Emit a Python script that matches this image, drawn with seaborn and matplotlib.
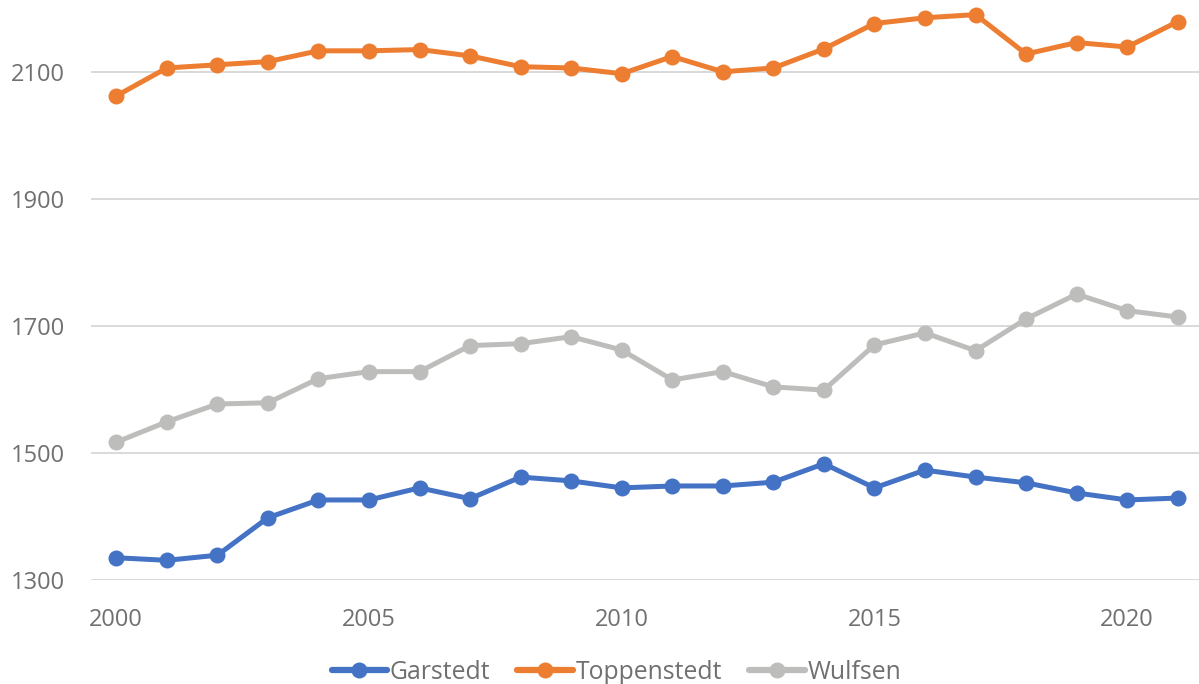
import matplotlib
matplotlib.use("Agg")
import matplotlib.pyplot as plt
import pandas as pd
import seaborn as sns

years = list(range(2000, 2022))
garstedt = [1335, 1331, 1339, 1398, 1426, 1426, 1445, 1428, 1462, 1456, 1445,
            1448, 1448, 1454, 1483, 1445, 1473, 1462, 1453, 1437, 1426, 1429]
toppenstedt = [2062, 2106, 2111, 2116, 2133, 2133, 2135, 2125, 2108, 2106, 2097,
               2124, 2100, 2106, 2136, 2176, 2185, 2190, 2128, 2146, 2139, 2179]
wulfsen = [1517, 1549, 1577, 1579, 1617, 1628, 1628, 1669, 1672, 1683, 1662,
           1615, 1628, 1604, 1599, 1670, 1689, 1661, 1711, 1750, 1724, 1714]
names = ["Garstedt", "Toppenstedt", "Wulfsen"]
colors = ["#4472C4", "#ED7D31", "#BDBDBB"]

df = pd.DataFrame({
    "Jahr": years * 3,
    "Einwohner": garstedt + toppenstedt + wulfsen,
    "Gemeinde": [n for n in names for _ in years],
})

sns.set_theme(style="white")
plt.rcParams["font.family"] = ["Open Sans", "DejaVu Sans"]
text_col = "#707070"

fig = plt.figure(figsize=(11.99, 6.84), dpi=100)
ax = fig.add_axes([91 / 1199, 104 / 684, 1112 / 1199, 580 / 684])

sns.lineplot(data=df, x="Jahr", y="Einwohner", hue="Gemeinde",
             palette=dict(zip(names, colors)), marker="o", markersize=11.5,
             markeredgewidth=0, linewidth=3.6, ax=ax, legend=True, clip_on=False)

ax.set_xlim(1999.5, 2021.5)
ax.set_ylim(1300, 2213)
ax.set_yticks([1300, 1500, 1700, 1900, 2100])
ax.set_xticks([2000, 2005, 2010, 2015, 2020])
ax.grid(axis="y", color="#D9D9D9", linewidth=1.4)
ax.set_axisbelow(True)
for s in ax.spines.values():
    s.set_visible(False)
ax.tick_params(axis="both", length=0, labelsize=17, labelcolor=text_col)
ax.tick_params(axis="x", pad=20)
ax.tick_params(axis="y", pad=19)
ax.set_xlabel("")
ax.set_ylabel("")

handles, labels = ax.get_legend_handles_labels()
ax.get_legend().remove()
for h in handles:
    h.set_linewidth(4.5)
fig.legend(handles, labels, loc="lower center", bbox_to_anchor=(0.514, -0.034),
           ncol=3, frameon=False, fontsize=17.8, labelcolor=text_col,
           handlelength=2.25, handletextpad=0.1, columnspacing=1.1)

fig.savefig("out.png", dpi=100)
